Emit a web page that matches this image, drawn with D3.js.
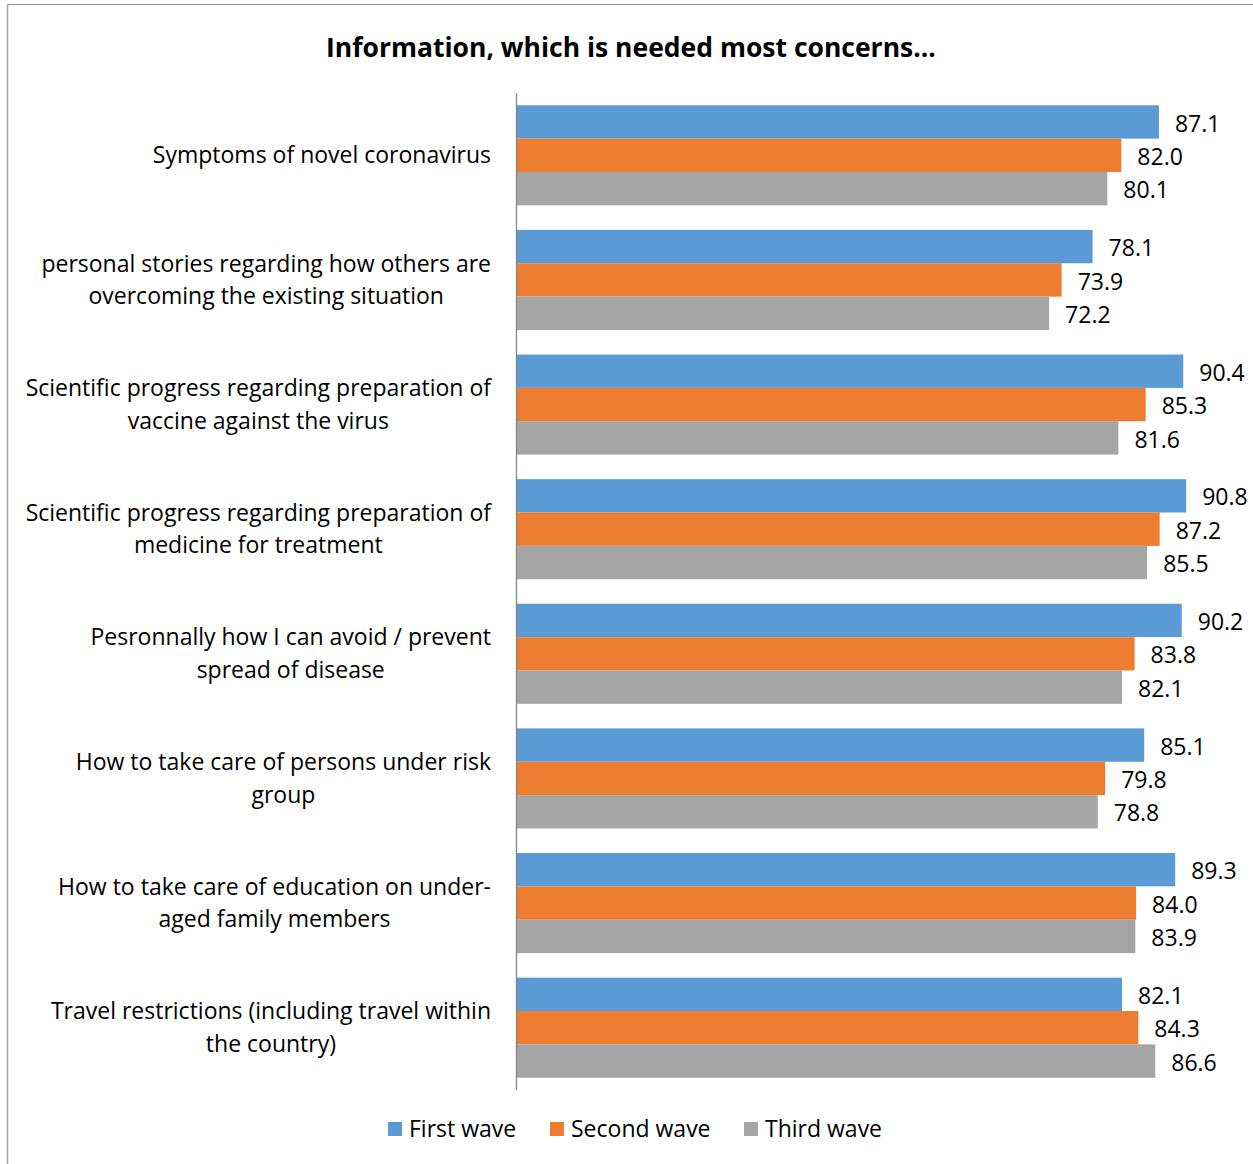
<!DOCTYPE html>
<html>
<head>
<meta charset="utf-8">
<script src="https://cdn.jsdelivr.net/npm/d3@7/dist/d3.min.js"></script>
<style>
  html, body { margin: 0; padding: 0; background: #fff; }
  svg { display: block; }
  text { font-family: "Open Sans", "Noto Sans", sans-serif; fill: #000; }
</style>
</head>
<body>
<svg id="chart" width="1253" height="1164"></svg>
<script>
// Topics asked about, each broken into its displayed lines
const categories = [
  ["Symptoms of novel coronavirus"],
  ["personal stories regarding how others are", "overcoming the existing situation"],
  ["Scientific progress regarding preparation of", "vaccine against the virus"],
  ["Scientific progress regarding preparation of", "medicine for treatment"],
  ["Pesronnally how I can avoid / prevent", "spread of disease"],
  ["How to take care of persons under risk", "group"],
  ["How to take care of education on under-", "aged family members"],
  ["Travel restrictions (including travel within", "the country)"]
];
const seriesNames = ["First wave", "Second wave", "Third wave"];
const firstWave  = [87.1, 78.1, 90.4, 90.8, 90.2, 85.1, 89.3, 82.1];
const secondWave = [82.0, 73.9, 85.3, 87.2, 83.8, 79.8, 84.0, 84.3];
const thirdWave  = [80.1, 72.2, 81.6, 85.5, 82.1, 78.8, 83.9, 86.6];
const seriesValues = [firstWave, secondWave, thirdWave];
const colors = ["#5b9bd5", "#ed7d31", "#a5a5a5"];

const W = 1253, H = 1164;
const FS = 23;
const svg = d3.select("#chart");

// Frame lines (top and left)
svg.append("line").attr("x1", 7.5).attr("x2", W).attr("y1", 4.5).attr("y2", 4.5)
  .attr("stroke", "#8c8c8c").attr("stroke-width", 1.2);
svg.append("line").attr("x1", 7.5).attr("x2", 7.5).attr("y1", 4.5).attr("y2", H)
  .attr("stroke", "#a6a6a6").attr("stroke-width", 1.5);

// Title
svg.append("text").attr("x", 631).attr("y", 57).attr("text-anchor", "middle")
  .style("font-size", "26.5px").style("font-weight", "bold")
  .text("Information, which is needed most concerns...");

const plot = { left: 517, right: 1254, top: 93, bottom: 1090 };

const y0 = d3.scaleBand().domain(d3.range(categories.length))
  .range([plot.top, plot.bottom]).paddingInner(0.197).paddingOuter(0.0985);
const y1 = d3.scaleBand().domain(d3.range(seriesNames.length))
  .range([0, y0.bandwidth()]);
const x = d3.scaleLinear().domain([0, 100]).range([plot.left, plot.right]);

// Bars and value labels
const groups = svg.append("g").selectAll("g").data(categories).join("g")
  .attr("transform", (d, i) => `translate(0,${y0(i)})`);

groups.each(function(cat, i) {
  const g = d3.select(this);
  seriesValues.forEach((vals, s) => {
    g.append("rect")
      .attr("x", x(0)).attr("y", y1(s))
      .attr("width", x(vals[i]) - x(0)).attr("height", y1.bandwidth())
      .attr("fill", colors[s]);
    g.append("text")
      .attr("x", x(vals[i]) + 16).attr("y", y1(s) + y1.bandwidth() / 2)
      .attr("dy", "0.42em").style("font-size", FS + "px")
      .text(vals[i].toFixed(1));
  });
});

// Category labels: lines centred within a block whose right edge sits by the axis
const labelRight = 491, lineH = 32.5;
categories.forEach((lines, i) => {
  const cy = y0(i) + y0.bandwidth() / 2;
  const g = svg.append("g");
  const texts = lines.map((ln, k) => g.append("text")
    .attr("y", cy + (k - (lines.length - 1) / 2) * lineH)
    .attr("dy", "0.34em").attr("text-anchor", "middle")
    .style("font-size", FS + "px").text(ln));
  const maxW = d3.max(texts, t => t.node().getComputedTextLength());
  texts.forEach(t => t.attr("x", labelRight - maxW / 2));
});

// Category axis line
svg.append("line").attr("x1", plot.left - 0.5).attr("x2", plot.left - 0.5)
  .attr("y1", plot.top).attr("y2", plot.bottom)
  .attr("stroke", "#868686").attr("stroke-width", 1.3);

// Legend
const legendX = [388, 550, 744];
const legend = svg.append("g");
seriesNames.forEach((name, s) => {
  legend.append("rect").attr("x", legendX[s]).attr("y", 1122)
    .attr("width", 14).attr("height", 14).attr("fill", colors[s]);
  legend.append("text").attr("x", legendX[s] + 21).attr("y", 1129)
    .attr("dy", "0.36em").style("font-size", FS + "px").text(name);
});
</script>
</body>
</html>
